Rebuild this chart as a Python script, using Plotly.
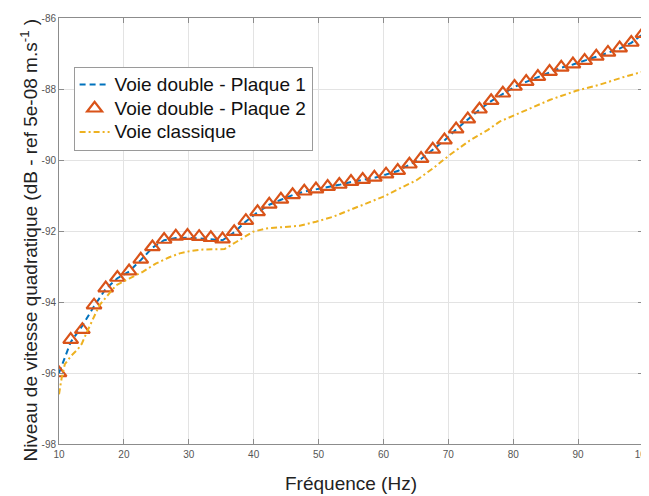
import plotly.graph_objects as go

# ---- data ----
freq = [10.0, 11.8, 13.6, 15.4, 17.2, 19.0, 20.8, 22.6, 24.4, 26.2,
        28.0, 29.8, 31.6, 33.4, 35.2, 37.0, 38.8, 40.6, 42.4, 44.2,
        46.0, 47.8, 49.6, 51.4, 53.2, 55.0, 56.8, 58.6, 60.4, 62.2,
        64.0, 65.8, 67.6, 69.4, 71.2, 73.0, 74.8, 76.6, 78.4, 80.2,
        82.0, 83.8, 85.6, 87.4, 89.2, 91.0, 92.8, 94.6, 96.4, 98.2, 100.0]

plaque2 = [-96.00, -95.06, -94.78, -94.09, -93.61, -93.31, -93.13, -92.80, -92.45, -92.24,
           -92.15, -92.13, -92.16, -92.19, -92.23, -92.02, -91.71, -91.46, -91.25, -91.11,
           -90.98, -90.88, -90.82, -90.75, -90.69, -90.61, -90.55, -90.49, -90.40, -90.30,
           -90.12, -89.96, -89.70, -89.44, -89.13, -88.85, -88.57, -88.33, -88.12, -87.93,
           -87.79, -87.65, -87.51, -87.39, -87.30, -87.20, -87.08, -86.97, -86.85, -86.69, -86.44]

plaque1 = [-96.00, -95.13, -94.67, -94.12, -93.63, -93.33, -93.14, -92.82, -92.47, -92.26,
           -92.20, -92.19, -92.21, -92.23, -92.26, -92.04, -91.73, -91.47, -91.26, -91.12,
           -90.99, -90.89, -90.83, -90.76, -90.70, -90.62, -90.56, -90.50, -90.41, -90.31,
           -90.13, -89.97, -89.71, -89.45, -89.14, -88.86, -88.58, -88.34, -88.13, -87.94,
           -87.80, -87.66, -87.52, -87.40, -87.31, -87.21, -87.09, -86.98, -86.86, -86.70, -86.45]

freq_classique = [10.0, 10.4, 10.9, 11.9, 12.9, 13.5, 14.2, 15.0, 16.2, 17.5,
                  18.8, 20.8, 22.9, 24.9, 27.0, 28.6, 30.1, 32.2, 34.7, 35.5,
                  37.3, 39.9, 41.9, 44.5, 47.1, 49.6, 52.2, 54.8, 57.3, 59.9,
                  62.5, 65.1, 67.6, 70.2, 73.3, 76.1, 77.9, 82.0, 85.6, 89.7,
                  93.3, 96.9, 100.0]
classique = [-96.60, -96.15, -95.75, -95.51, -95.33, -95.18, -94.89, -94.57, -94.10, -93.81,
             -93.53, -93.34, -93.15, -92.92, -92.74, -92.63, -92.57, -92.52, -92.52, -92.51,
             -92.31, -92.02, -91.93, -91.88, -91.85, -91.74, -91.60, -91.41, -91.22, -91.04,
             -90.80, -90.57, -90.24, -89.86, -89.45, -89.15, -88.92, -88.59, -88.31, -88.05,
             -87.88, -87.67, -87.51]

x_ticks = [10, 20, 30, 40, 50, 60, 70, 80, 90, 100]
x_ticklabels = ["10", "20", "30", "40", "50", "60", "70", "80", "90", "100"]
y_ticks = [-98, -96, -94, -92, -90, -88, -86]
y_ticklabels = ["-98", "-96", "-94", "-92", "-90", "-88", "-86"]

names = ["Voie double - Plaque 1", "Voie double - Plaque 2", "Voie classique"]
x_title = "Fréquence (Hz)"
y_title = "Niveau de vitesse quadratique (dB - ref 5e-08 m.s<sup>-1</sup> )"

# ---- figure ----
FONT = "Liberation Sans, Arial, Helvetica, sans-serif"
fig = go.Figure()


def leg(name):
    # larger glyphs inside a legend whose row spacing follows a 16px font
    return '<span style="font-size:19px">' + name + '</span>'


fig.add_trace(go.Scatter(
    x=freq, y=plaque1, mode="lines", name=leg(names[0]),
    line=dict(color="#0072BD", width=2, dash="6px,4px")))

fig.add_trace(go.Scatter(
    x=freq, y=plaque2, mode="markers", name=leg(names[1]),
    marker=dict(symbol="triangle-up-open", size=13, color="#D95319",
                line=dict(color="#D95319", width=2.2))))

fig.add_trace(go.Scatter(
    x=freq_classique, y=classique, mode="lines", name=leg(names[2]),
    line=dict(color="#EDB120", width=2, dash="6px,3px,2px,3px")))

axis_common = dict(
    showline=True, linecolor="#8c8c8c", linewidth=1, mirror="ticks",
    ticks="inside", ticklen=5, tickcolor="#8c8c8c",
    showgrid=True, gridcolor="#e3e3e3", gridwidth=1, zeroline=False,
    tickfont=dict(family=FONT, size=10, color="#555555"),
    automargin=False, ticklabeloverflow="allow",
)

fig.update_xaxes(range=[10, 100], tickvals=x_ticks, ticktext=x_ticklabels,
                 ticklabelstandoff=1, **axis_common)
fig.update_yaxes(range=[-98, -86], tickvals=y_ticks, ticktext=y_ticklabels,
                 **axis_common)

fig.add_annotation(text=x_title, xref="paper", yref="paper", x=0.5, y=-0.093,
                   xanchor="center", yanchor="middle", showarrow=False,
                   font=dict(family=FONT, size=19, color="#222222"))
fig.add_annotation(text=y_title, xref="paper", yref="paper", x=-0.052, y=0.479,
                   xanchor="center", yanchor="middle", showarrow=False, textangle=-90,
                   font=dict(family=FONT, size=19, color="#222222"))

# the page body keeps its default 8px margin, so the figure is sized to fit the window
fig.update_layout(
    width=641, height=488,
    margin=dict(l=51, r=6, t=10, b=52),
    plot_bgcolor="white", paper_bgcolor="white",
    font=dict(family=FONT),
    legend=dict(
        x=0.025, y=0.886, xanchor="left", yanchor="top",
        bgcolor="white", bordercolor="#9a9a9a", borderwidth=1,
        font=dict(family=FONT, size=16, color="#111111"),
        itemwidth=30, tracegroupgap=0,
    ),
    showlegend=True,
)

fig.write_html("out.html")
